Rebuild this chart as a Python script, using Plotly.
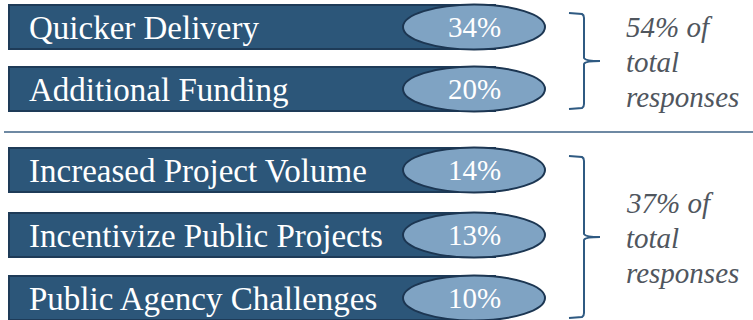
import plotly.graph_objects as go

# ---- data ----
labels = ["Quicker Delivery", "Additional Funding", "Increased Project Volume",
          "Incentivize Public Projects", "Public Agency Challenges"]
values = [34, 20, 14, 13, 10]
groups = [0, 0, 1, 1, 1]
group_totals = [54, 37]
total_lines = ["{}% of", "total", "responses"]

# ---- layout constants ----
W, H = 753, 320
row_y = [27, 89, 170, 235, 298]
bar_h = 44
bar_x0, bar_x1 = 9, 495
ell_x0, ell_x1 = 403, 545
BAR = "#2C5679"
BAR_EDGE = "#1E3B58"
ELL = "#7FA3C3"
ELL_EDGE = "#1C3652"
SERIF = "Liberation Serif, Times New Roman, serif"

fig = go.Figure()

fig.add_trace(go.Bar(
    x=[bar_x1 - bar_x0] * len(labels), base=bar_x0, y=row_y, width=bar_h,
    orientation="h", marker=dict(color=BAR, line=dict(color=BAR_EDGE, width=2)),
    hoverinfo="skip", showlegend=False))

shapes = []
for y in row_y:
    shapes.append(dict(type="circle", xref="x", yref="y",
                       x0=ell_x0, x1=ell_x1, y0=y - bar_h / 2 - 0.5, y1=y + bar_h / 2 + 0.5,
                       fillcolor=ELL, line=dict(color=ELL_EDGE, width=2), layer="above"))

shapes.append(dict(type="line", xref="x", yref="y", x0=4, x1=W, y0=132, y1=132,
                   line=dict(color="#3E6285", width=1.5)))

def brace(y0, y1, ym):
    xl, xv, xt = 569, 584, 600
    return (f"M {xl} {y0} L {xv-2} {y0+1} Q {xv} {y0+2} {xv} {y0+5} "
            f"L {xv} {ym-3} Q {xv+1} {ym} {xt} {ym} Q {xv+1} {ym} {xv} {ym+3} "
            f"L {xv} {y1-5} Q {xv} {y1-2} {xv-2} {y1-1} L {xl} {y1}")

group_rows = {}
for i, g in enumerate(groups):
    group_rows.setdefault(g, []).append(row_y[i])
brace_spans = []
for g in sorted(group_rows):
    ys = group_rows[g]
    top = min(ys) - bar_h / 2 + 8
    bot = max(ys) + bar_h / 2 - 2
    brace_spans.append((top, bot, (top + bot) / 2))
for (t, b, m) in brace_spans:
    shapes.append(dict(type="path", xref="x", yref="y", path=brace(t, b, m),
                       line=dict(color="#2F5A82", width=2)))

fig.update_layout(shapes=shapes)

# category labels
for y, lab in zip(row_y, labels):
    fig.add_annotation(x=bar_x0 + 18, y=y + 1, xref="x", yref="y",
                       text=lab, showarrow=False, xanchor="left", yanchor="middle",
                       font=dict(family=SERIF, size=33, color="white"))

# percentages (annotations sit above the ellipse shapes)
for y, v in zip(row_y, values):
    fig.add_annotation(x=(ell_x0 + ell_x1) / 2, y=y, xref="x", yref="y",
                       text=f"{v}%", showarrow=False, xanchor="center", yanchor="middle",
                       font=dict(family=SERIF, size=29, color="white"))

# group totals
for (t, b, m), tot in zip(brace_spans, group_totals):
    for k, line in enumerate(total_lines):
        fig.add_annotation(x=624, y=m + 1 + (k - 1) * 35, xref="x", yref="y",
                           xanchor="left", yanchor="middle",
                           text=f"<i>{line.format(tot)}</i>", showarrow=False,
                           font=dict(family=SERIF, size=29, color="#50565E"))

fig.update_layout(
    width=W, height=H, margin=dict(l=0, r=0, t=0, b=0),
    paper_bgcolor="white", plot_bgcolor="white",
    xaxis=dict(range=[0, W], visible=False, fixedrange=True),
    yaxis=dict(range=[H, 0], visible=False, fixedrange=True),
    bargap=0,
)

fig.write_html("out.html", config={"displayModeBar": False},
               post_script="document.body.style.margin='0';")
